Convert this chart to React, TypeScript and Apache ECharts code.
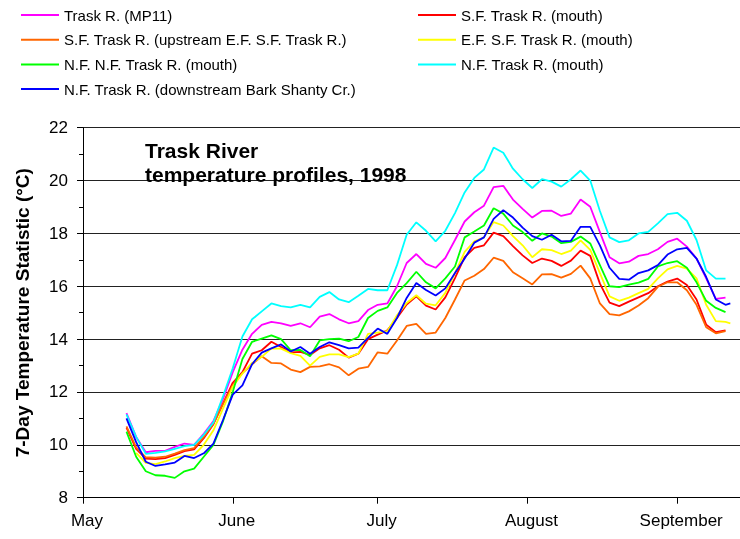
import React, { useEffect, useRef } from "react";
import * as echarts from "echarts";

// x values: day number counted from May 1, 1998 (May 1 = 0)
const days = [9, 11, 13, 15, 17, 19, 21, 23, 25, 27, 29, 31, 33, 35, 37, 39, 41, 43, 45, 47, 49, 51, 53, 55, 57, 59, 61, 63, 65, 67, 69, 71, 73, 75, 77, 79, 81, 83, 85, 87, 89, 91, 93, 95, 97, 99, 101, 103, 105, 107, 109, 111, 113, 115, 117, 119, 121, 123, 125, 127, 129, 131, 133, 134];

const monthTicks = [0, 31, 61, 92, 123];
const monthNames = ["May", "June", "July", "August", "September"];

const traskMP11 = [11.2, 10.3, 9.72, 9.77, 9.77, 9.92, 10.05, 10.0, 10.42, 10.9, 11.75, 12.75, 13.6, 14.2, 14.54, 14.65, 14.6, 14.5, 14.6, 14.45, 14.85, 14.95, 14.75, 14.6, 14.68, 15.1, 15.3, 15.35, 16.0, 16.88, 17.22, 16.85, 16.7, 17.07, 17.75, 18.45, 18.8, 19.05, 19.75, 19.8, 19.28, 18.93, 18.6, 18.85, 18.86, 18.66, 18.75, 19.28, 19.01, 18.05, 17.1, 16.87, 16.93, 17.15, 17.22, 17.4, 17.68, 17.8, 17.5, 17.05, 16.3, 15.52, 15.57, null];
const sfMouth = [10.65, 9.85, 9.48, 9.46, 9.5, 9.62, 9.76, 9.83, 10.25, 10.78, 11.57, 12.35, 12.75, 13.45, 13.58, 13.9, 13.7, 13.5, 13.52, 13.4, 13.65, 13.77, 13.6, 13.3, 13.45, 14.0, 14.17, 14.33, 14.8, 15.31, 15.62, 15.27, 15.12, 15.58, 16.31, 17.1, 17.45, 17.55, 18.03, 17.9, 17.52, 17.17, 16.88, 17.05, 16.96, 16.77, 16.97, 17.35, 17.15, 16.1, 15.38, 15.25, 15.42, 15.58, 15.74, 16.0, 16.18, 16.29, 16.05, 15.5, 14.55, 14.26, 14.33, null];
const sfUpstream = [10.7, 9.9, 9.53, 9.52, 9.55, 9.67, 9.8, 9.88, 10.3, 10.8, 11.55, 12.25, 12.72, 13.05, 13.35, 13.1, 13.08, 12.85, 12.75, 12.95, 12.97, 13.05, 12.93, 12.63, 12.88, 12.95, 13.5, 13.45, 13.95, 14.5, 14.58, 14.2, 14.25, 14.8, 15.5, 16.22, 16.4, 16.65, 17.08, 16.96, 16.53, 16.3, 16.07, 16.45, 16.46, 16.33, 16.47, 16.78, 16.3, 15.35, 14.95, 14.9, 15.05, 15.27, 15.55, 15.98, 16.15, 16.15, 15.85, 15.3, 14.45, 14.22, 14.3, null];
const efsfMouth = [null, 9.7, 9.32, 9.27, 9.37, 9.5, 9.58, 9.62, 10.0, 10.55, 11.38, 12.2, 12.7, 13.1, 13.33, 13.65, 13.64, 13.47, 13.37, 13.0, 13.33, 13.42, 13.42, 13.32, 13.45, 14.2, 14.25, 14.3, 14.9, 15.37, 15.66, 15.34, 15.28, 15.75, 16.5, 17.3, 17.7, 17.85, 18.43, 18.3, 17.9, 17.55, 17.1, 17.4, 17.37, 17.22, 17.35, 17.74, 17.38, 16.5, 15.62, 15.45, 15.57, 15.74, 15.9, 16.3, 16.64, 16.77, 16.67, 16.3, 15.3, 14.68, 14.65, 14.6];
const nfnfMouth = [10.5, 9.55, 9.0, 8.85, 8.83, 8.75, 9.0, 9.1, 9.55, 10.0, 10.9, 12.0, 13.25, 13.9, 14.02, 14.14, 14.0, 13.58, 13.59, 13.35, 13.95, 14.0, 14.02, 13.92, 14.08, 14.8, 15.07, 15.2, 15.75, 16.12, 16.55, 16.15, 15.92, 16.3, 16.75, 17.85, 18.07, 18.3, 18.95, 18.75, 18.3, 18.05, 17.72, 18.0, 17.88, 17.63, 17.68, 17.88, 17.62, 16.8, 16.0, 15.97, 16.06, 16.14, 16.28, 16.75, 16.88, 16.95, 16.7, 16.15, 15.45, 15.18, 15.02, null];
const nfMouth = [11.15, 10.3, 9.66, 9.7, 9.75, 9.85, 9.95, 10.0, 10.38, 10.85, 11.85, 12.9, 14.1, 14.75, 15.05, 15.35, 15.25, 15.2, 15.3, 15.2, 15.6, 15.78, 15.5, 15.4, 15.64, 15.9, 15.85, 15.85, 16.8, 17.95, 18.42, 18.1, 17.7, 18.1, 18.77, 19.55, 20.1, 20.42, 21.25, 21.05, 20.45, 20.05, 19.72, 20.05, 19.96, 19.77, 20.05, 20.38, 20.0, 18.85, 17.85, 17.67, 17.74, 18.0, 18.06, 18.38, 18.73, 18.78, 18.48, 17.75, 16.6, 16.29, 16.29, null];
const nfBarkShanty = [11.0, 10.1, 9.36, 9.2, 9.26, 9.33, 9.58, 9.5, 9.68, 10.05, 10.95, 11.9, 12.25, 13.05, 13.49, 13.65, 13.8, 13.53, 13.7, 13.45, 13.7, 13.88, 13.77, 13.65, 13.68, 14.05, 14.4, 14.2, 14.8, 15.56, 16.12, 15.86, 15.65, 15.92, 16.5, 17.05, 17.65, 17.85, 18.55, 18.88, 18.6, 18.22, 17.9, 17.76, 17.95, 17.7, 17.72, 18.25, 18.25, 17.55, 16.7, 16.28, 16.25, 16.5, 16.6, 16.8, 17.2, 17.4, 17.45, 17.05, 16.35, 15.5, 15.3, 15.35];

const seriesNames = [
  "Trask R. (MP11)",
  "S.F. Trask R. (mouth)",
  "S.F. Trask R. (upstream E.F. S.F. Trask R.)",
  "E.F. S.F. Trask R. (mouth)",
  "N.F. N.F. Trask R. (mouth)",
  "N.F. Trask R. (mouth)",
  "N.F. Trask R. (downstream Bark Shanty Cr.)",
];
const seriesValues = [traskMP11, sfMouth, sfUpstream, efsfMouth, nfnfMouth, nfMouth, nfBarkShanty];
const seriesColors = ["#FF00FF", "#FF0000", "#FF6600", "#FFFF00", "#00FF00", "#00FFFF", "#0000FF"];

const FONT = "'Liberation Sans', Arial, sans-serif";

export default function App() {
  const ref = useRef<HTMLDivElement>(null);
  useEffect(() => {
    document.body.style.margin = "0";
    if (!ref.current) return;
    const chart = echarts.init(ref.current, undefined, { renderer: "svg" });
    const legendCommon = {
      orient: "vertical",
      top: 7.5,
      icon: "rect",
      itemWidth: 38,
      itemHeight: 2,
      itemGap: 9.7,
      padding: 0,
      textStyle: { fontSize: 15, color: "#000", lineHeight: 15, fontFamily: FONT },
    };
    chart.setOption({
      animation: false,
      textStyle: { fontFamily: FONT },
      title: {
        text: "Trask River\ntemperature profiles, 1998",
        left: 145,
        top: 139,
        padding: 0,
        textStyle: { fontSize: 21, fontWeight: "bold", color: "#000", lineHeight: 23.5, fontFamily: FONT },
      },
      legend: [
        { ...legendCommon, left: 21, data: [seriesNames[0], seriesNames[2], seriesNames[4], seriesNames[6]] },
        { ...legendCommon, left: 418, data: [seriesNames[1], seriesNames[3], seriesNames[5]] },
      ],
      grid: { left: 83, right: 0, top: 127.7, bottom: 41.3, outerBoundsMode: "none" },
      xAxis: {
        type: "value",
        min: 0,
        max: 136,
        axisLine: { show: true, lineStyle: { color: "#000", width: 1 } },
        axisTick: { show: true, customValues: monthTicks, length: 6, lineStyle: { color: "#000" } },
        axisLabel: {
          customValues: monthTicks,
          formatter: (v: number) => monthNames[monthTicks.indexOf(v)] ?? "",
          fontSize: 17,
          color: "#000",
          margin: 14,
          padding: [0, 0, 0, 8],
          fontFamily: FONT,
        },
        splitLine: { show: false },
      },
      yAxis: {
        type: "value",
        min: 8,
        max: 22,
        interval: 2,
        name: "7-Day Temperature Statistic (°C)",
        nameLocation: "middle",
        nameGap: 51,
        nameTextStyle: { fontSize: 19, fontWeight: "bold", color: "#000", fontFamily: FONT },
        axisLine: { show: true, lineStyle: { color: "#000", width: 1 } },
        axisTick: { show: true, length: 6, lineStyle: { color: "#000" } },
        minorTick: { show: true, splitNumber: 2, length: 4, lineStyle: { color: "#000" } },
        axisLabel: { fontSize: 17, color: "#000", margin: 15, fontFamily: FONT },
        splitLine: { show: true, lineStyle: { color: "#222", width: 1 } },
      },
      series: seriesNames.map((name, i) => ({
        name,
        type: "line",
        symbol: "none",
        data: days.map((d, j) => [d, seriesValues[i][j]]),
        lineStyle: { color: seriesColors[i], width: 1.8 },
        itemStyle: { color: seriesColors[i] },
      })),
    });
    return () => chart.dispose();
  }, []);
  return <div ref={ref} style={{ position: "fixed", left: 0, top: 0, width: 740, height: 539 }} />;
}
